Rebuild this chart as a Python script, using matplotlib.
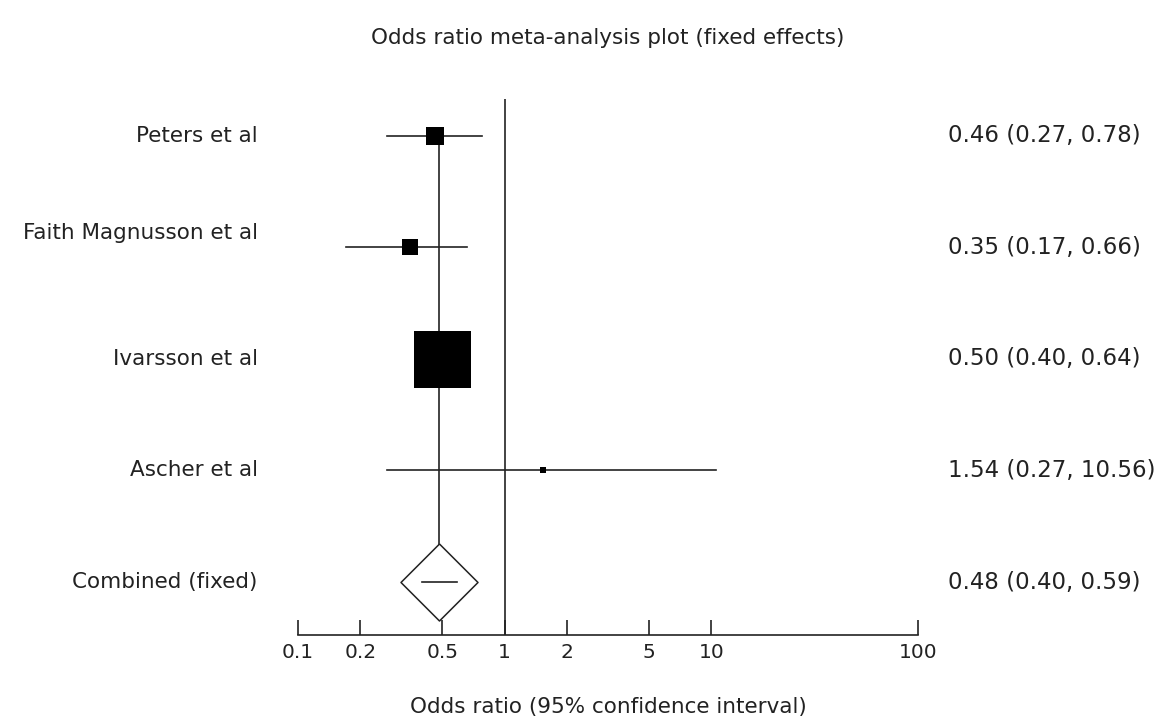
"""
Forest plot: odds ratio meta-analysis (fixed effects)
"""

import matplotlib
matplotlib.use('Agg')
import matplotlib.pyplot as plt
from matplotlib.path import Path
import numpy as np

# Study data
studies = ['Peters et al', 'Faith Magnusson et al', 'Ivarsson et al', 'Ascher et al']
odds_ratio = [0.46, 0.35, 0.50, 1.54]
ci_low = [0.27, 0.17, 0.40, 0.27]
ci_high = [0.78, 0.66, 0.64, 10.56]
weights = [8.4, 6.6, 84.1, 0.9]  # relative weight (%)

pooled_label = 'Combined (fixed)'
pooled_or = 0.48
pooled_low = 0.40
pooled_high = 0.59

tick_values = [0.1, 0.2, 0.5, 1, 2, 5, 10, 100]
tick_labels = ['0.1', '0.2', '0.5', '1', '2', '5', '10', '100']

plt.rcParams['font.family'] = ['DejaVu Sans']
TEXT = '#222222'
FS = 15.5
DPI = 100
W, H = 1171, 725

fig = plt.figure(figsize=(W / DPI, H / DPI), dpi=DPI)
fig.patch.set_facecolor('white')

# axes placed in pixel terms: x 298..918, y 99..635
ax = fig.add_axes([298 / W, 1 - 635 / H, 620 / W, 536 / H])
ax.set_xscale('log')
ax.set_xlim(0.1, 100)

n = len(studies)
rows = np.arange(n + 1)  # last row is the pooled estimate
ax.set_ylim(n + 0.475, -0.33)

lw = 1.2
# line of no effect
ax.axvline(1, color=TEXT, lw=lw, zorder=1)
# pooled estimate line, from first study down to the diamond
ax.plot([pooled_or, pooled_or], [rows[0], rows[-1]], color=TEXT, lw=lw, zorder=1)

for i in range(n):
    ax.plot([ci_low[i], ci_high[i]], [rows[i], rows[i]], color=TEXT, lw=lw, zorder=2)
    side_px = 57 * np.sqrt(weights[i] / max(weights))
    ax.plot(odds_ratio[i], rows[i], marker='s', color='black',
            markersize=side_px * 72 / DPI, markeredgewidth=0, zorder=3)

# pooled diamond
diamond = Path([(0, 1), (1, 0), (0, -1), (-1, 0), (0, 1)])
ax.plot(pooled_or, rows[-1], marker=diamond, markersize=77 * 72 / DPI,
        markerfacecolor='white', markeredgecolor=TEXT, markeredgewidth=1.1, zorder=3)
ax.plot([pooled_low, pooled_high], [rows[-1], rows[-1]], color=TEXT, lw=lw, zorder=4)

# axis styling
for side in ['top', 'left', 'right']:
    ax.spines[side].set_visible(False)
ax.spines['bottom'].set_linewidth(lw)
ax.spines['bottom'].set_color(TEXT)
ax.set_yticks([])
ax.xaxis.set_minor_locator(plt.NullLocator())
ax.set_xticks(tick_values)
ax.set_xticklabels(tick_labels)
ax.tick_params(axis='x', direction='in', length=11, width=lw, color=TEXT,
               labelsize=14.5, labelcolor=TEXT, pad=6)

# row labels
labels = studies + [pooled_label]
values = odds_ratio + [pooled_or]
lows = ci_low + [pooled_low]
highs = ci_high + [pooled_high]
for i, lab in enumerate(labels):
    dy = -0.13 if lab == 'Faith Magnusson et al' else 0.0
    ax.text(-0.065, rows[i] + dy, lab, transform=ax.get_yaxis_transform(),
            ha='right', va='center', fontsize=FS, color=TEXT)
    ax.text(1.048, rows[i], f'{values[i]:.2f} ({lows[i]:.2f}, {highs[i]:.2f})',
            transform=ax.get_yaxis_transform(), ha='left', va='center',
            fontsize=16.5, color=TEXT)

xc = (298 + 310) / W  # centred over the axis
fig.text(xc, 1 - 38 / H, 'Odds ratio meta-analysis plot (fixed effects)',
         ha='center', va='center', fontsize=FS, color=TEXT)
fig.text(xc, 1 - 707 / H, 'Odds ratio (95% confidence interval)',
         ha='center', va='center', fontsize=FS, color=TEXT)

plt.savefig('out.png', dpi=DPI)
plt.close()
